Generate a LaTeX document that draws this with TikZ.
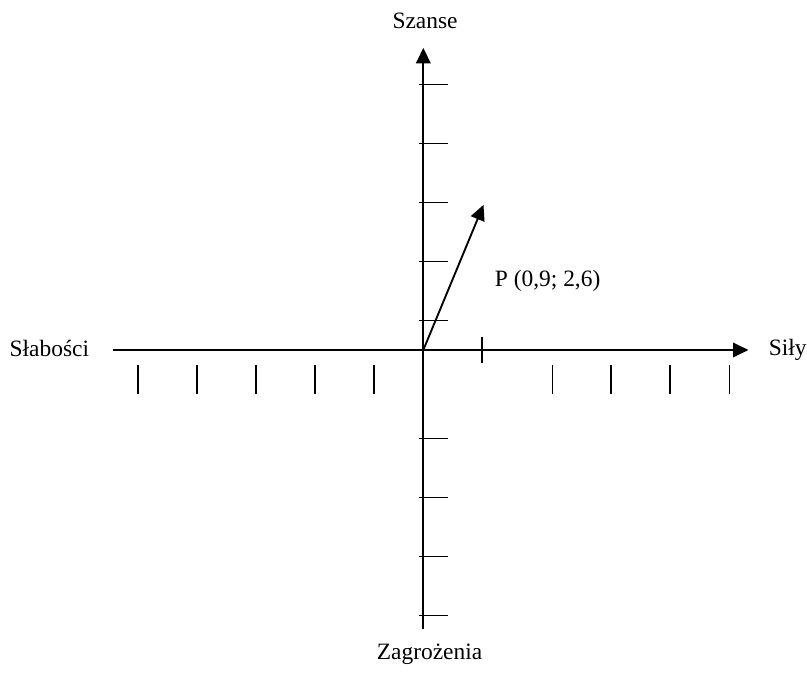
\documentclass[tikz,border=0pt]{standalone}
\usepackage{fontspec}
\setmainfont{Liberation Serif}
\usetikzlibrary{arrows.meta}

\begin{document}
\begin{tikzpicture}[>={Triangle[length=2.6mm, width=2.45mm]}, line width=0.9pt,
    font=\fontsize{11.3}{13.6}\selectfont,
    kreska/.style={line width=0.9pt},
    opis/.style={inner sep=0pt}]

    % =================================================================
    % 1. PUNKTY GŁÓWNE
    % =================================================================
    % Początek układu w (0,0), jedna działka = 1
    \coordinate (O) at (0, 0);
    \coordinate (Lewo) at (-5.26, 0);
    \coordinate (Prawo) at (5.51, 0);
    \coordinate (Gora) at (0, 5.12);
    \coordinate (Dol) at (0, -4.73);
    \coordinate (P) at (1.02, 2.46);

    \useasboundingbox (-7.175, -5.458) rectangle (6.503, 5.932);

    % =================================================================
    % 2. OSIE
    % =================================================================
    \draw[->] (Lewo) -- (Prawo);
    \draw[->] (Dol) -- (Gora);

    % =================================================================
    % 3. PODZIAŁKI
    % =================================================================
    % Na osi pionowej (po prawej stronie osi)
    \foreach \y in {0.5, 1.5, 2.5, 3.5, 4.5, -1.5, -2.5, -3.5, -4.5} {
        \draw[kreska] (-0.068, \y) -- (0.424, \y);
    }

    % Pod osią poziomą
    \foreach \x in {-4.84, -3.83, -2.84, -1.84, -0.83, 2.19, 3.18, 4.18, 5.19} {
        \draw[kreska] (\x, -0.254) -- (\x, -0.746);
    }

    % Jedna kreska przecinająca oś
    \draw[kreska] (0.99, 0.225) -- (0.99, -0.225);

    % =================================================================
    % 4. WEKTOR P
    % =================================================================
    \draw[->] (O) -- (P);

    % =================================================================
    % 5. OPISY
    % =================================================================
    \node[opis] (szanse) at (0.03, 5.585) {Szanse};
    \node[opis] (zagrozenia) at (0.105, -5.15) {Zagrożenia};
    \node[opis, anchor=east] (slabosci) at (-5.65, 0.03) {Słabości};
    \node[opis, anchor=west] (sily) at (5.84, 0) {Siły};
    \node[opis, anchor=west] (punktP) at (1.198, 1.18) {P (0,9; 2,6)};

\end{tikzpicture}
\end{document}
